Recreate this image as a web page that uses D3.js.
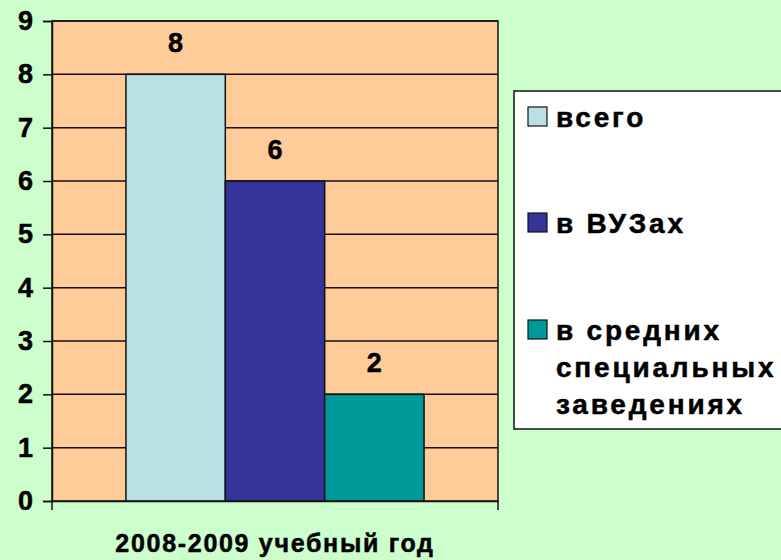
<!DOCTYPE html>
<html>
<head>
<meta charset="utf-8">
<script src="https://cdn.jsdelivr.net/npm/d3@7"></script>
<style>
  body { margin: 0; background: #CCFFCC; }
  svg { display: block; font-family: Arial, "Liberation Sans", sans-serif; }
</style>
</head>
<body>
<div id="chart"></div>
<script>
// Data
const categories = ["2008-2009 учебный год"];
const seriesNames = ["всего", "в ВУЗах", "в средних специальных заведениях"];
const seriesValues = [8, 6, 2];
const seriesColors = ["#BBE0E3", "#333399", "#009999"];
const yTicks = [0, 1, 2, 3, 4, 5, 6, 7, 8, 9];
const legendLines = [["всего"], ["в ВУЗах"], ["в средних", "специальных", "заведениях"]];

const width = 781, height = 560;
const margin = { top: 21, right: 283, bottom: 59, left: 52 };
const innerW = width - margin.left - margin.right;
const innerH = height - margin.top - margin.bottom;

const svg = d3.select("#chart")
    .append("svg")
    .attr("width", width)
    .attr("height", height);

svg.append("rect")
    .attr("width", width)
    .attr("height", height)
    .attr("fill", "#CCFFCC");

const g = svg.append("g")
    .attr("transform", `translate(${margin.left},${margin.top})`);

const y = d3.scaleLinear().domain([0, 9]).range([innerH, 0]);
const x0 = d3.scaleBand().domain(categories).range([0, innerW]).paddingInner(0).paddingOuter(0.248);
const x1 = d3.scaleBand().domain(seriesNames).range([0, x0.bandwidth()]);

// plot area
g.append("rect")
    .attr("width", innerW)
    .attr("height", innerH)
    .attr("fill", "#FFCC99")
    .attr("stroke", "#111")
    .attr("stroke-width", 1.5);

// gridlines
g.selectAll(".grid")
    .data(yTicks.filter(d => d > 0))
    .enter()
    .append("line")
    .attr("x1", 0)
    .attr("x2", innerW)
    .attr("y1", d => y(d))
    .attr("y2", d => y(d))
    .attr("stroke", "#111")
    .attr("stroke-width", 1.5);

// bars
const groups = g.selectAll(".grp")
    .data(categories)
    .enter()
    .append("g")
    .attr("transform", d => `translate(${x0(d)},0)`);

groups.selectAll("rect")
    .data(seriesNames.map((s, i) => ({ name: s, value: seriesValues[i], color: seriesColors[i] })))
    .enter()
    .append("rect")
    .attr("x", d => x1(d.name))
    .attr("y", d => y(d.value))
    .attr("width", x1.bandwidth())
    .attr("height", d => innerH - y(d.value))
    .attr("fill", d => d.color)
    .attr("stroke", "#111")
    .attr("stroke-width", 1.5);

groups.selectAll(".val")
    .data(seriesNames.map((s, i) => ({ name: s, value: seriesValues[i] })))
    .enter()
    .append("text")
    .attr("x", d => x1(d.name) + x1.bandwidth() / 2)
    .attr("y", d => y(d.value) - 22)
    .attr("text-anchor", "middle")
    .attr("font-size", "27px")
    .attr("font-weight", "bold")
    .attr("fill", "#000")
    .attr("stroke", "#000")
    .attr("stroke-width", 0.5)
    .text(d => d.value);

// y axis
const yAxis = g.append("g")
    .call(d3.axisLeft(y).tickValues(yTicks).tickSize(9).tickPadding(10));
yAxis.select(".domain").attr("stroke", "#111").attr("stroke-width", 1.5);
yAxis.selectAll(".tick line").attr("stroke", "#111").attr("stroke-width", 1.5);
yAxis.selectAll(".tick text")
    .attr("font-size", "27px")
    .attr("font-weight", "bold")
    .attr("font-family", "Arial, 'Liberation Sans', sans-serif")
    .attr("fill", "#000")
    .attr("stroke", "#000")
    .attr("stroke-width", 0.5);

// x axis
const xAxis = g.append("g")
    .attr("transform", `translate(0,${innerH})`)
    .call(d3.axisBottom(x0).tickSize(0).tickPadding(33));
xAxis.select(".domain").attr("stroke", "#111").attr("stroke-width", 1.5);
xAxis.selectAll(".tick text")
    .attr("font-size", "25px")
    .attr("font-weight", "bold")
    .attr("letter-spacing", "1.7px")
    .attr("font-family", "Arial, 'Liberation Sans', sans-serif")
    .attr("fill", "#000")
    .attr("stroke", "#000")
    .attr("stroke-width", 0.5);
xAxis.selectAll(".edge")
    .data([0, innerW])
    .enter()
    .append("line")
    .attr("x1", d => d)
    .attr("x2", d => d)
    .attr("y1", 0)
    .attr("y2", 9)
    .attr("stroke", "#111")
    .attr("stroke-width", 1.5);

// legend
const legend = svg.append("g").attr("transform", "translate(514,91)");
legend.append("rect")
    .attr("width", 300)
    .attr("height", 338)
    .attr("fill", "#fff")
    .attr("stroke", "#111")
    .attr("stroke-width", 1.5);

const itemY = [26, 132, 239];
legendLines.forEach((lines, i) => {
    const item = legend.append("g").attr("transform", `translate(0,${itemY[i]})`);
    item.append("rect")
        .attr("x", 14)
        .attr("y", -10)
        .attr("width", 19)
        .attr("height", 19)
        .attr("fill", seriesColors[i])
        .attr("stroke", "#111")
        .attr("stroke-width", 1.2);
    lines.forEach((t, j) => {
        item.append("text")
            .attr("x", 42)
            .attr("y", j * 37)
            .attr("dy", "0.35em")
            .attr("font-size", "28px")
            .attr("font-weight", "bold")
            .attr("letter-spacing", "2.8px")
            .attr("fill", "#000")
            .attr("stroke", "#000")
            .attr("stroke-width", 0.5)
            .text(t);
    });
});
</script>
</body>
</html>
